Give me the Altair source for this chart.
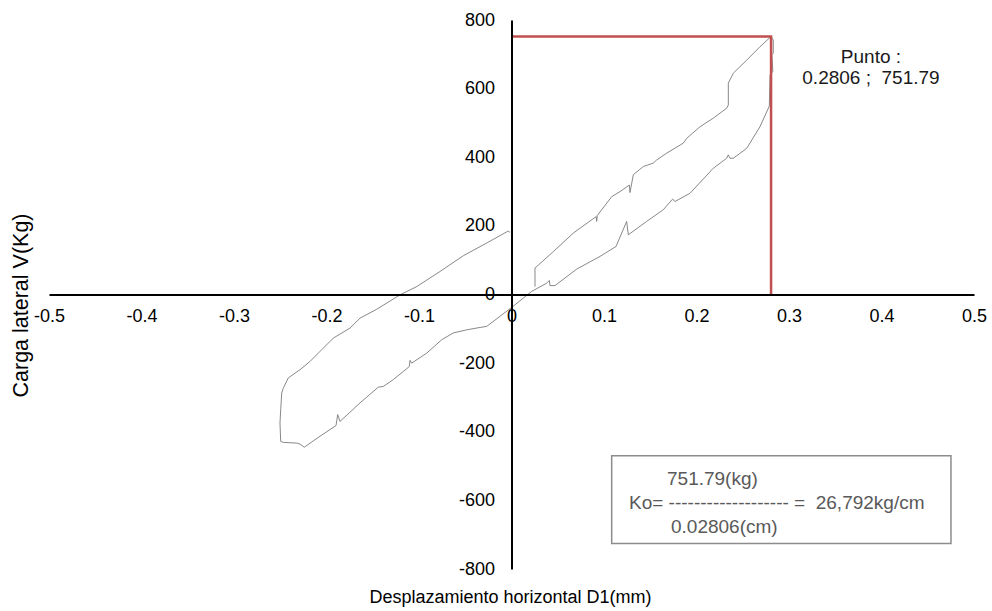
import altair as alt
import pandas as pd

# ---- data ----
curve_x = [0.0254, 0.0254, 0.0452, 0.0668, 0.0915, 0.0921, 0.0927, 0.1083, 0.1173, 0.1274, 0.1281,
           0.1317, 0.1425, 0.1533, 0.1569, 0.1678, 0.1857, 0.1894, 0.2038, 0.2182, 0.2326, 0.2344,
           0.2344, 0.2398, 0.2543, 0.2686, 0.2806, 0.2830, 0.2830, 0.2815, 0.2825, 0.2795, 0.2787,
           0.2686, 0.2543, 0.2398, 0.2362, 0.2344, 0.2326, 0.2182, 0.1930, 0.1768, 0.1742, 0.1641,
           0.1461, 0.1263, 0.1245, 0.1130, 0.0957, 0.0705, 0.0470, 0.0416, 0.0409, 0.0380, 0.0218,
           0.0000, -0.0268, -0.0340, -0.0484, -0.0629, -0.0755, -0.0917, -0.1079, -0.1097, -0.1105,
           -0.1278, -0.1386, -0.1440, -0.1638, -0.1854, -0.1879, -0.1897, -0.2070, -0.2240, -0.2286,
           -0.2322, -0.2467, -0.2495, -0.2503, -0.2495, -0.2484, -0.2467, -0.2413, -0.2286, -0.2178,
           -0.2052, -0.1926, -0.1746, -0.1638, -0.1457, -0.1205, -0.1025, -0.0773, -0.0521, -0.0268,
           -0.0035, -0.0016]
curve_y = [23, 77, 125, 179, 227, 213, 230, 285, 300, 319, 297,
           349, 373, 383, 392, 412, 441, 455, 489, 514, 543, 552,
           616, 645, 683, 722, 751.79, 742, 703, 700, 650, 640, 549,
           489, 426, 397, 397, 407, 397, 368, 295, 271, 278, 247,
           213, 174, 213, 140, 111, 74, 26, 26, 41, 33, 9,
           -38, -93, -96, -103, -112, -132, -171, -200, -192, -210,
           -248, -268, -270, -316, -370, -350, -382, -413, -445, -436,
           -433, -431, -428, -374, -336, -287, -273, -243, -219, -195,
           -161, -127, -98, -69, -43, -1, 23, 67, 113, 150,
           185, 181]

guide_x = [0.0, 0.2806, 0.2806]
guide_y = [751.79, 751.79, 0.0]

x_ticks = [-0.5, -0.4, -0.3, -0.2, -0.1, 0, 0.1, 0.2, 0.3, 0.4, 0.5]
y_ticks = [-800, -600, -400, -200, 0, 200, 400, 600, 800]

point_lines = ["Punto :", "0.2806 ;\u00a0 751.79"]
point_x = [0.3886, 0.3886]
point_y = [693, 632]

ko_lines = ["751.79(kg)", "Ko= ------------------- =\u00a0 26,792kg/cm", "0.02806(cm)"]
ko_x = [0.1681, 0.1270, 0.1724]
ko_y = [-537, -607, -679]

box_x = [0.1083]
box_x2 = [0.4751]
box_y = [-470]
box_y2 = [-726]

# ---- layout ----
W, H = 925, 549
FONT = "Liberation Sans"
FIX_MINUS = "replace(datum.label, '\u2212', '-')"

curve_df = pd.DataFrame({"x": curve_x, "y": curve_y, "i": list(range(len(curve_x)))})
guide_df = pd.DataFrame({"x": guide_x, "y": guide_y, "i": list(range(len(guide_x)))})
point_df = pd.DataFrame({"x": point_x, "y": point_y, "t": point_lines})
ko_df = pd.DataFrame({"x": ko_x, "y": ko_y, "t": ko_lines})
box_df = pd.DataFrame({"x": box_x, "x2": box_x2, "y": box_y, "y2": box_y2})

xs = alt.Scale(domain=[-0.5, 0.5], nice=False, zero=False)
ys = alt.Scale(domain=[-800, 800], nice=False, zero=False)

x_axis = alt.Axis(
    values=x_ticks, format="~g", labelExpr=FIX_MINUS, offset=-H / 2, grid=False,
    ticks=False, tickSize=0, domainColor="black", domainWidth=2,
    labelFont=FONT, labelFontSize=18, labelColor="black", labelPadding=13, labelFlush=False,
    title="Desplazamiento horizontal D1(mm)", titleFont=FONT, titleFontSize=18,
    titleFontWeight="normal", titleColor="black", titleX=461, titleY=308,
    titleAlign="center", titleBaseline="alphabetic", zindex=1,
)
y_axis = alt.Axis(
    values=y_ticks, format="d", labelExpr=FIX_MINUS, offset=-W / 2, grid=False,
    ticks=False, tickSize=0, domainColor="black", domainWidth=2,
    labelFont=FONT, labelFontSize=18, labelColor="black", labelPadding=17,
    title="Carga lateral V(Kg)", titleFont=FONT, titleFontSize=21.5,
    titleFontWeight="normal", titleColor="black", titleX=-484, titleY=285,
    titleAngle=270, titleAlign="center", titleBaseline="alphabetic", zindex=1,
)

curve = alt.Chart(curve_df).mark_line(color="#7a7a7a", strokeWidth=0.9).encode(
    x=alt.X("x:Q", scale=xs, axis=x_axis),
    y=alt.Y("y:Q", scale=ys, axis=y_axis),
    order="i:Q",
)

guide = alt.Chart(guide_df).mark_line(color="#C0504D", strokeWidth=2.5).encode(
    x=alt.X("x:Q", scale=xs), y=alt.Y("y:Q", scale=ys), order="i:Q"
)

box = alt.Chart(box_df).mark_rect(fill="white", stroke="#8c8c8c", strokeWidth=1.5).encode(
    x=alt.X("x:Q", scale=xs), x2="x2:Q", y=alt.Y("y:Q", scale=ys), y2="y2:Q"
)

ko_text = alt.Chart(ko_df).mark_text(
    align="left", baseline="middle", font=FONT, fontSize=19, color="#595959"
).encode(x=alt.X("x:Q", scale=xs), y=alt.Y("y:Q", scale=ys), text="t:N")

point_text = alt.Chart(point_df).mark_text(
    align="center", baseline="middle", font=FONT, fontSize=19, color="#1a1a1a"
).encode(x=alt.X("x:Q", scale=xs), y=alt.Y("y:Q", scale=ys), text="t:N")

chart = alt.layer(curve, guide, box, ko_text, point_text).properties(
    width=W, height=H,
    padding={"left": 49, "top": 20, "right": 18, "bottom": 42},
    autosize=alt.AutoSizeParams(type="none"),
).configure_view(stroke=None)

chart.save("out.html", embed_options={"renderer": "svg", "actions": False})
